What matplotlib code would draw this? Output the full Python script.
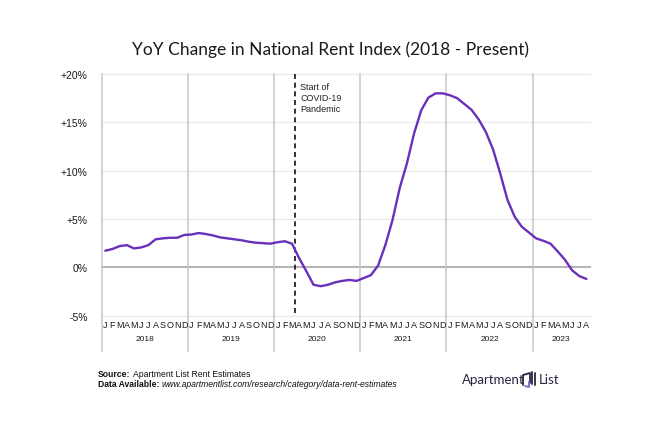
import matplotlib
matplotlib.use("Agg")
import matplotlib.pyplot as plt
import matplotlib.transforms as mtransforms
from matplotlib.lines import Line2D

months = ["J", "F", "M", "A", "M", "J", "J", "A", "S", "O", "N", "D"]
years = ["2018", "2019", "2020", "2021", "2022", "2023"]

yoy_2018 = [1.72, 1.90, 2.20, 2.30, 1.96, 2.06, 2.30, 2.90, 3.00, 3.06, 3.06, 3.35]
yoy_2019 = [3.40, 3.55, 3.45, 3.30, 3.10, 3.00, 2.90, 2.80, 2.65, 2.55, 2.50, 2.45]
yoy_2020 = [2.60, 2.70, 2.45, 0.95, -0.40, -1.80, -1.95, -1.80, -1.55, -1.40, -1.30, -1.40]
yoy_2021 = [-1.10, -0.80, 0.20, 2.30, 4.90, 8.20, 10.75, 13.85, 16.25, 17.56, 18.00, 18.00]
yoy_2022 = [17.80, 17.50, 16.90, 16.30, 15.30, 14.00, 12.20, 9.70, 7.00, 5.25, 4.20, 3.60]
yoy_2023 = [3.00, 2.75, 2.45, 1.65, 0.80, -0.30, -0.90, -1.20]

yticks = [-5, 0, 5, 10, 15, 20]
ytick_labels = ["-5%", "0%", "+5%", "+10%", "+15%", "+20%"]

values = yoy_2018 + yoy_2019 + yoy_2020 + yoy_2021 + yoy_2022 + yoy_2023
xs = [i + 0.5 for i in range(len(values))]
n_months = len(values)

W, H = 650, 427
fig = plt.figure(figsize=(6.5, 4.27), dpi=100)
fig.patch.set_facecolor("white")

left, right, top, bottom = 101.7, 590.0, 75.0, 316.7
ax = fig.add_axes([left / W, 1 - bottom / H, (right - left) / W, (bottom - top) / H])
ax.set_xlim(0, n_months)
ax.set_ylim(-5, 20)
for s in ax.spines.values():
    s.set_visible(False)
ax.set_xticks([])
ax.set_yticks(yticks)
ax.set_yticklabels(ytick_labels, fontsize=7.5, color="#1a1a1a", family="Liberation Sans")
ax.tick_params(axis="y", length=0, pad=10)

# horizontal gridlines
for v in yticks:
    if v == 0:
        ax.axhline(v, color="#b5b5b5", lw=1.5, zorder=1, clip_on=False)
    else:
        ax.axhline(v, color="#ebebeb", lw=1.0, zorder=1, clip_on=False)

trans = mtransforms.blended_transform_factory(ax.transData, ax.transAxes)

# year separator lines
for k in range(len(years)):
    ax.add_line(Line2D([12 * k, 12 * k], [1.0, -0.145], transform=trans,
                       color="#c8c8c8", lw=1.1, clip_on=False, zorder=1))

# month labels and year labels
for i in range(n_months):
    ax.text(i + 0.5, -0.038, months[i % 12], transform=trans, ha="center", va="center",
            fontsize=6.5, color="#1a1a1a", family="Liberation Sans")
for k, y in enumerate(years):
    n_in = min(12, n_months - 12 * k)
    ax.text(12 * k + n_in / 2, -0.096, y, transform=trans, ha="center", va="center",
            fontsize=6.0, color="#1a1a1a", family="Liberation Sans")

# COVID line
covid_x = 26.9
ax.add_line(Line2D([covid_x, covid_x], [1.0, 0.0], transform=trans, color="#111111",
                   lw=1.2, ls=(0, (3, 2.2)), zorder=3))
ax.text(covid_x + 0.75, 0.965, "Start of\nCOVID-19\nPandemic", transform=trans,
        ha="left", va="top", fontsize=6.5, linespacing=1.25, color="#222222",
        family="Liberation Sans")

ax.plot(xs, values, color="#6b2fbd", lw=1.7, zorder=4, solid_capstyle="round")

# title
fig.text(330 / W, 1 - 50 / H, "YoY Change in National Rent Index (2018 - Present)",
         ha="center", va="center", fontsize=12.5, color="#1a1a1a", family="Lato")

# footer
fig.canvas.draw()
renderer = fig.canvas.get_renderer()

def label_pair(x_px, y_px, bold_txt, rest_txt, rest_style):
    t1 = fig.text(x_px / W, 1 - y_px / H, bold_txt, fontsize=6.2, fontweight="bold",
                  ha="left", va="center", family="Liberation Sans", color="#111111")
    bb = t1.get_window_extent(renderer=renderer)
    x2 = (bb.x1 + 2.5) / fig.bbox.width
    fig.text(x2, 1 - y_px / H, rest_txt, fontsize=6.2, style=rest_style, ha="left",
             va="center", family="Liberation Sans", color="#111111")

label_pair(98, 375, "Source:", "Apartment List Rent Estimates", "normal")
label_pair(98, 385, "Data Available:",
           "www.apartmentlist.com/research/category/data-rent-estimates", "italic")

# logo
fig.text(462 / W, 1 - 380 / H, "Apartment", fontsize=9.5, ha="left", va="center",
         family="Lato", color="#2a2340")
fig.text(539 / W, 1 - 380 / H, "List", fontsize=9.5, ha="left", va="center",
         family="Lato", color="#2a2340")
ix, iy = 528, 380
def fl(xp, yp, c, lw=1.3):
    fig.add_artist(Line2D([p / W for p in xp], [1 - p / H for p in yp], color=c, lw=lw,
                          transform=fig.transFigure, solid_capstyle="round"))
fl([ix - 5, ix - 5, ix + 2, ix + 2], [iy + 6, iy - 4, iy - 6, iy + 4], "#2a2340")
fl([ix - 3, ix + 1, ix + 1], [iy + 7, iy + 8, iy + 3], "#8b5fd6")
fl([ix + 4, ix + 4], [iy - 7, iy + 5], "#2a2340")
fl([ix + 6.5, ix + 6.5], [iy - 6, iy + 6], "#2a2340")

fig.savefig("out.png", dpi=100, facecolor="white")
